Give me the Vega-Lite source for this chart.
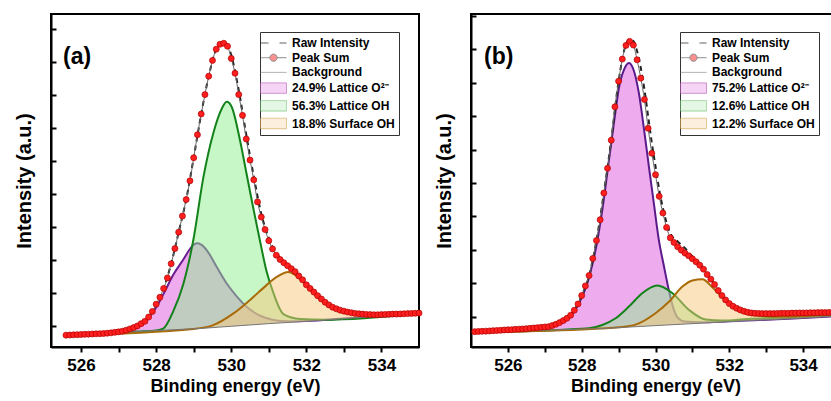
{
  "$schema": "https://vega.github.io/schema/vega-lite/v6.json",
  "background": "white",
  "padding": {"left": 13, "top": 13, "right": 0, "bottom": 0},
  "config": {
    "font": "Liberation Sans",
    "view": {"stroke": "black", "strokeWidth": 2},
    "axis": {"domainColor": "black", "domainWidth": 2, "tickColor": "black", "tickWidth": 2, "labelFont": "Liberation Sans", "labelFontSize": 17, "labelFontWeight": "bold", "labelColor": "black", "titleFont": "Liberation Sans", "titleFontWeight": "bold", "titleColor": "black", "grid": false},
    "axisX": {"titleFontSize": 18, "tickSize": 5, "labelPadding": 5, "titlePadding": 4},
    "axisY": {"titleFontSize": 20, "tickSize": -5, "titlePadding": 16},
    "legend": {"orient": "none", "legendX": 209, "legendY": 18, "symbolSize": 169, "symbolStrokeWidth": 1, "labelFont": "Liberation Sans", "labelFontSize": 12, "labelFontWeight": "bold", "labelColor": "black", "rowPadding": 1.7, "padding": 4, "strokeColor": "#333333", "fillColor": "white", "symbolOffset": 2.5, "labelOffset": 11.5, "labelLimit": 300}
  },
  "datasets": {
    "aBg": [{"x":525.6,"y":-2.9},{"x":527,"y":-2.1},{"x":528,"y":-1.5},{"x":529.2,"y":-0.85},{"x":530,"y":-0.2},{"x":531,"y":0.6},{"x":532,"y":1.3},{"x":533,"y":2.1},{"x":534,"y":2.9},{"x":535,"y":3.7}],
    "aC1": [{"x":525.6,"y":-2.9,"b":-2.9},{"x":527,"y":-2.0,"b":-2.1},{"x":527.3,"y":-1.5,"b":-1.9},{"x":527.5,"y":-0.6,"b":-1.8},{"x":527.84,"y":3.0,"b":-1.6},{"x":528,"y":5.5,"b":-1.5},{"x":528.19,"y":9.5,"b":-1.4},{"x":528.46,"y":15.5,"b":-1.25},{"x":528.72,"y":20.0,"b":-1.1},{"x":528.95,"y":24.0,"b":-1.0},{"x":529.08,"y":25.0,"b":-0.9},{"x":529.2,"y":24.6,"b":-0.85},{"x":529.35,"y":22.9,"b":-0.7},{"x":529.61,"y":17.9,"b":-0.5},{"x":529.88,"y":12.8,"b":-0.3},{"x":530.15,"y":8.8,"b":-0.1},{"x":530.41,"y":5.7,"b":0.1},{"x":530.77,"y":3.0,"b":0.4},{"x":531.1,"y":1.8,"b":0.7},{"x":531.5,"y":1.3,"b":1.0},{"x":532,"y":1.4,"b":1.3},{"x":533,"y":2.15,"b":2.1},{"x":535,"y":3.7,"b":3.7}],
    "aC2": [{"x":525.6,"y":-2.9,"b":-2.9},{"x":527.5,"y":-1.8,"b":-1.8},{"x":528,"y":-1.45,"b":-1.5},{"x":528.19,"y":-0.9,"b":-1.4},{"x":528.46,"y":4.5,"b":-1.25},{"x":528.72,"y":12.5,"b":-1.1},{"x":528.99,"y":26.0,"b":-1.0},{"x":529.26,"y":45.2,"b":-0.8},{"x":529.52,"y":58.4,"b":-0.6},{"x":529.75,"y":66.0,"b":-0.4},{"x":529.88,"y":68.0,"b":-0.3},{"x":530.01,"y":66.5,"b":-0.2},{"x":530.23,"y":56.5,"b":0.0},{"x":530.41,"y":46.0,"b":0.1},{"x":530.59,"y":35.5,"b":0.3},{"x":530.77,"y":25.5,"b":0.4},{"x":530.94,"y":16.5,"b":0.55},{"x":531.12,"y":10.0,"b":0.7},{"x":531.39,"y":3.5,"b":0.9},{"x":531.83,"y":2.0,"b":1.2},{"x":532.5,"y":1.8,"b":1.7},{"x":535,"y":3.7,"b":3.7}],
    "aC3": [{"x":525.6,"y":-2.9,"b":-2.9},{"x":529,"y":-1.0,"b":-1.0},{"x":529.52,"y":0.15,"b":-0.6},{"x":530.06,"y":3.7,"b":-0.15},{"x":530.5,"y":7.8,"b":0.2},{"x":530.94,"y":12.3,"b":0.55},{"x":531.21,"y":14.8,"b":0.75},{"x":531.52,"y":16.3,"b":1.0},{"x":531.92,"y":13.2,"b":1.25},{"x":532.28,"y":8.8,"b":1.5},{"x":532.63,"y":5.9,"b":1.8},{"x":533.07,"y":4.0,"b":2.15},{"x":533.61,"y":3.2,"b":2.6},{"x":534.23,"y":3.3,"b":3.1},{"x":535,"y":3.75,"b":3.7}],
    "aRaw": [{"x":525.6,"y":-2.9},{"x":526,"y":-2.7},{"x":526.4,"y":-2.5},{"x":526.8,"y":-2.2},{"x":527,"y":-1.9},{"x":527.2,"y":-1.4},{"x":527.4,"y":-0.6},{"x":527.6,"y":0.6},{"x":527.8,"y":2.6},{"x":528,"y":6.5},{"x":528.2,"y":11.3},{"x":528.4,"y":18.8},{"x":528.6,"y":28.4},{"x":528.8,"y":38.3},{"x":529,"y":51.0},{"x":529.2,"y":64.3},{"x":529.4,"y":75.8},{"x":529.6,"y":84.0},{"x":529.7,"y":85.6},{"x":529.8,"y":86.0},{"x":529.9,"y":85.3},{"x":530,"y":82.2},{"x":530.2,"y":71.5},{"x":530.4,"y":58.0},{"x":530.6,"y":45.3},{"x":530.8,"y":34.0},{"x":531,"y":26.6},{"x":531.2,"y":22.0},{"x":531.4,"y":19.6},{"x":531.6,"y":17.7},{"x":531.8,"y":15.4},{"x":532,"y":12.6},{"x":532.2,"y":10.3},{"x":532.4,"y":8.2},{"x":532.6,"y":6.3},{"x":532.8,"y":5.1},{"x":533,"y":4.4},{"x":533.4,"y":3.6},{"x":533.8,"y":3.3},{"x":534.2,"y":3.45},{"x":534.6,"y":3.6},{"x":535,"y":3.8}],
    "aSum": [{"x":525.6,"y":-2.9},{"x":525.7,"y":-2.85},{"x":525.8,"y":-2.8},{"x":525.9,"y":-2.75},{"x":526.0,"y":-2.7},{"x":526.1,"y":-2.65},{"x":526.2,"y":-2.6},{"x":526.3,"y":-2.55},{"x":526.4,"y":-2.5},{"x":526.5,"y":-2.45},{"x":526.6,"y":-2.4},{"x":526.7,"y":-2.3},{"x":526.8,"y":-2.2},{"x":526.9,"y":-2.05},{"x":527.0,"y":-1.9},{"x":527.1,"y":-1.7},{"x":527.2,"y":-1.4},{"x":527.3,"y":-1.0},{"x":527.4,"y":-0.6},{"x":527.5,"y":-0.1},{"x":527.6,"y":0.6},{"x":527.7,"y":1.3},{"x":527.8,"y":2.6},{"x":527.9,"y":4.3},{"x":528.0,"y":6.5},{"x":528.1,"y":8.6},{"x":528.2,"y":11.3},{"x":528.3,"y":14.5},{"x":528.4,"y":18.8},{"x":528.5,"y":23.4},{"x":528.6,"y":28.4},{"x":528.7,"y":33.3},{"x":528.8,"y":38.3},{"x":528.9,"y":44.0},{"x":529.0,"y":51.0},{"x":529.1,"y":58.0},{"x":529.2,"y":64.3},{"x":529.3,"y":70.2},{"x":529.4,"y":75.8},{"x":529.5,"y":80.6},{"x":529.6,"y":84.0},{"x":529.7,"y":85.5},{"x":529.8,"y":85.8},{"x":529.9,"y":84.9},{"x":530.0,"y":81.2},{"x":530.1,"y":76.7},{"x":530.2,"y":70.2},{"x":530.3,"y":63.9},{"x":530.4,"y":56.7},{"x":530.5,"y":50.3},{"x":530.6,"y":44.3},{"x":530.7,"y":37.6},{"x":530.8,"y":33.0},{"x":530.9,"y":29.2},{"x":531.0,"y":25.8},{"x":531.1,"y":23.3},{"x":531.2,"y":21.4},{"x":531.3,"y":20.1},{"x":531.4,"y":19.1},{"x":531.5,"y":18.2},{"x":531.6,"y":17.3},{"x":531.7,"y":16.4},{"x":531.8,"y":15.1},{"x":531.9,"y":13.9},{"x":532.0,"y":12.4},{"x":532.1,"y":11.3},{"x":532.2,"y":10.2},{"x":532.3,"y":9.1},{"x":532.4,"y":8.1},{"x":532.5,"y":7.1},{"x":532.6,"y":6.3},{"x":532.7,"y":5.6},{"x":532.8,"y":5.1},{"x":532.9,"y":4.7},{"x":533.0,"y":4.4},{"x":533.1,"y":4.1},{"x":533.2,"y":3.9},{"x":533.3,"y":3.7},{"x":533.4,"y":3.6},{"x":533.5,"y":3.5},{"x":533.6,"y":3.4},{"x":533.7,"y":3.35},{"x":533.8,"y":3.3},{"x":533.9,"y":3.3},{"x":534.0,"y":3.35},{"x":534.1,"y":3.4},{"x":534.2,"y":3.45},{"x":534.3,"y":3.5},{"x":534.4,"y":3.5},{"x":534.5,"y":3.55},{"x":534.6,"y":3.6},{"x":534.7,"y":3.65},{"x":534.8,"y":3.7},{"x":534.9,"y":3.75},{"x":535.0,"y":3.8}],
    "bBg": [{"x":525.1,"y":-4.75},{"x":526,"y":-4.45},{"x":527,"y":-4.1},{"x":528,"y":-3.75},{"x":528.7,"y":-3.5},{"x":529.5,"y":-3.0},{"x":530.5,"y":-2.4},{"x":531.5,"y":-1.8},{"x":532.5,"y":-1.2},{"x":533.5,"y":-0.7},{"x":534.5,"y":-0.1},{"x":535,"y":0.2}],
    "bC1": [{"x":525.1,"y":-4.5,"b":-4.75},{"x":526.5,"y":-3.7,"b":-4.25},{"x":527.1,"y":-3.1,"b":-4.05},{"x":527.5,"y":-1.6,"b":-3.9},{"x":527.84,"y":2.3,"b":-3.8},{"x":528.2,"y":11.8,"b":-3.6},{"x":528.42,"y":22.5,"b":-3.55},{"x":528.56,"y":32.0,"b":-3.5},{"x":528.74,"y":47.0,"b":-3.45},{"x":528.88,"y":58.5,"b":-3.35},{"x":529.01,"y":68.5,"b":-3.3},{"x":529.15,"y":74.0,"b":-3.2},{"x":529.28,"y":75.9,"b":-3.1},{"x":529.42,"y":73.4,"b":-3.0},{"x":529.55,"y":66.9,"b":-2.95},{"x":529.69,"y":56.0,"b":-2.85},{"x":529.82,"y":45.0,"b":-2.8},{"x":529.96,"y":33.5,"b":-2.7},{"x":530.09,"y":23.0,"b":-2.65},{"x":530.23,"y":15.0,"b":-2.55},{"x":530.37,"y":7.5,"b":-2.5},{"x":530.47,"y":3.0,"b":-2.4},{"x":530.6,"y":-0.3,"b":-2.35},{"x":530.8,"y":-1.5,"b":-2.2},{"x":531.2,"y":-1.7,"b":-2.0},{"x":532,"y":-1.4,"b":-1.5},{"x":535,"y":0.2,"b":0.2}],
    "bC2": [{"x":525.1,"y":-4.75,"b":-4.75},{"x":527.5,"y":-3.9,"b":-3.9},{"x":528.2,"y":-3.5,"b":-3.6},{"x":528.56,"y":-2.5,"b":-3.5},{"x":528.92,"y":-0.5,"b":-3.35},{"x":529.28,"y":3.0,"b":-3.1},{"x":529.64,"y":7.0,"b":-2.9},{"x":530.05,"y":9.3,"b":-2.7},{"x":530.46,"y":7.0,"b":-2.4},{"x":530.91,"y":2.0,"b":-2.15},{"x":531.36,"y":-0.9,"b":-1.9},{"x":531.81,"y":-1.2,"b":-1.6},{"x":532.5,"y":-0.7,"b":-1.2},{"x":533.5,"y":-0.3,"b":-0.7},{"x":535,"y":0.5,"b":0.2}],
    "bC3": [{"x":525.1,"y":-4.75,"b":-4.75},{"x":528.5,"y":-3.55,"b":-3.55},{"x":529,"y":-3.2,"b":-3.25},{"x":529.46,"y":-2.4,"b":-3.0},{"x":530,"y":1.0,"b":-2.7},{"x":530.37,"y":4.5,"b":-2.5},{"x":530.73,"y":9.0,"b":-2.3},{"x":531,"y":10.8,"b":-2.1},{"x":531.27,"y":11.2,"b":-1.95},{"x":531.54,"y":8.8,"b":-1.8},{"x":531.81,"y":5.8,"b":-1.6},{"x":532.08,"y":3.0,"b":-1.45},{"x":532.35,"y":1.2,"b":-1.3},{"x":532.72,"y":0.3,"b":-1.05},{"x":533.44,"y":0.0,"b":-0.7},{"x":534,"y":0.2,"b":-0.4},{"x":535,"y":0.7,"b":0.2}],
    "bRaw": [{"x":525.1,"y":-4.5},{"x":525.6,"y":-4.2},{"x":526,"y":-3.95},{"x":526.6,"y":-3.5},{"x":527,"y":-3.1},{"x":527.2,"y":-2.7},{"x":527.4,"y":-1.8},{"x":527.6,"y":-0.5},{"x":527.8,"y":1.9},{"x":528,"y":6.3},{"x":528.2,"y":12.2},{"x":528.4,"y":22.8},{"x":528.6,"y":37.0},{"x":528.8,"y":52.8},{"x":529,"y":70.5},{"x":529.2,"y":81.5},{"x":529.3,"y":83.0},{"x":529.4,"y":82.5},{"x":529.5,"y":79.5},{"x":529.6,"y":74.5},{"x":529.7,"y":68.0},{"x":529.8,"y":60.0},{"x":529.9,"y":52.0},{"x":530,"y":45.0},{"x":530.1,"y":38.0},{"x":530.2,"y":32.5},{"x":530.4,"y":25.0},{"x":530.6,"y":22.5},{"x":530.8,"y":20.5},{"x":531,"y":18.0},{"x":531.2,"y":15.8},{"x":531.4,"y":12.8},{"x":531.6,"y":9.7},{"x":531.8,"y":6.3},{"x":532,"y":3.9},{"x":532.2,"y":2.5},{"x":532.4,"y":1.6},{"x":532.6,"y":1.1},{"x":532.8,"y":0.95},{"x":533.2,"y":0.9},{"x":533.6,"y":1.0},{"x":534,"y":1.1},{"x":534.5,"y":1.2},{"x":535,"y":1.3}],
    "bSum": [{"x":525.1,"y":-4.5},{"x":525.2,"y":-4.45},{"x":525.3,"y":-4.4},{"x":525.4,"y":-4.35},{"x":525.5,"y":-4.3},{"x":525.6,"y":-4.2},{"x":525.7,"y":-4.15},{"x":525.8,"y":-4.1},{"x":525.9,"y":-4.0},{"x":526.0,"y":-3.95},{"x":526.1,"y":-3.9},{"x":526.2,"y":-3.8},{"x":526.3,"y":-3.75},{"x":526.4,"y":-3.7},{"x":526.5,"y":-3.6},{"x":526.6,"y":-3.5},{"x":526.7,"y":-3.4},{"x":526.8,"y":-3.3},{"x":526.9,"y":-3.2},{"x":527.0,"y":-3.1},{"x":527.1,"y":-3.0},{"x":527.2,"y":-2.7},{"x":527.3,"y":-2.3},{"x":527.4,"y":-1.8},{"x":527.5,"y":-1.2},{"x":527.6,"y":-0.5},{"x":527.7,"y":0.4},{"x":527.8,"y":1.9},{"x":527.9,"y":3.8},{"x":528.0,"y":6.3},{"x":528.1,"y":9.2},{"x":528.2,"y":12.3},{"x":528.3,"y":17.4},{"x":528.4,"y":22.8},{"x":528.5,"y":29.0},{"x":528.6,"y":37.0},{"x":528.7,"y":44.4},{"x":528.8,"y":52.8},{"x":528.9,"y":62.8},{"x":529.0,"y":70.5},{"x":529.1,"y":77.1},{"x":529.2,"y":81.2},{"x":529.3,"y":82.4},{"x":529.4,"y":81.3},{"x":529.5,"y":76.9},{"x":529.6,"y":71.4},{"x":529.7,"y":65.0},{"x":529.8,"y":56.4},{"x":529.9,"y":48.9},{"x":530.0,"y":42.5},{"x":530.1,"y":36.0},{"x":530.2,"y":31.0},{"x":530.3,"y":26.7},{"x":530.4,"y":23.6},{"x":530.5,"y":22.2},{"x":530.6,"y":20.9},{"x":530.7,"y":19.9},{"x":530.8,"y":19.0},{"x":530.9,"y":18.2},{"x":531.0,"y":17.3},{"x":531.1,"y":16.4},{"x":531.2,"y":15.4},{"x":531.3,"y":14.2},{"x":531.4,"y":12.6},{"x":531.5,"y":11.2},{"x":531.6,"y":9.6},{"x":531.7,"y":7.8},{"x":531.8,"y":6.3},{"x":531.9,"y":5.0},{"x":532.0,"y":3.9},{"x":532.1,"y":3.1},{"x":532.2,"y":2.5},{"x":532.3,"y":2.0},{"x":532.4,"y":1.6},{"x":532.5,"y":1.3},{"x":532.6,"y":1.1},{"x":532.7,"y":1.0},{"x":532.8,"y":0.95},{"x":532.9,"y":0.9},{"x":533.0,"y":0.9},{"x":533.1,"y":0.9},{"x":533.2,"y":0.9},{"x":533.3,"y":0.95},{"x":533.4,"y":1.0},{"x":533.5,"y":1.0},{"x":533.6,"y":1.0},{"x":533.7,"y":1.05},{"x":533.8,"y":1.05},{"x":533.9,"y":1.1},{"x":534.0,"y":1.1},{"x":534.1,"y":1.1},{"x":534.2,"y":1.15},{"x":534.3,"y":1.15},{"x":534.4,"y":1.2},{"x":534.5,"y":1.2},{"x":534.6,"y":1.2},{"x":534.7,"y":1.25},{"x":534.8,"y":1.25},{"x":534.9,"y":1.3},{"x":535.0,"y":1.3}]
  },
  "hconcat": [
    {
      "width": 368,
      "height": 333,
      "title": {"text": "(a)", "anchor": "start", "frame": "group", "orient": "top", "offset": 0, "dx": 12, "dy": 73, "baseline": "alphabetic", "fontSize": 23, "fontWeight": "bold", "font": "Liberation Sans", "color": "black"},
      "encoding": {
        "x": {"field": "x", "type": "quantitative", "scale": {"domain": [525.2, 535], "nice": false, "zero": false}, "axis": {"title": "Binding energy (eV)", "values": [526, 527, 528, 529, 530, 531, 532, 533, 534], "labelExpr": "datum.value % 2 === 0 ? datum.label : ''", "encode": {"ticks": {"update": {"y2": {"signal": "datum.value % 2 === 0 ? 6 : 3.5"}}}}}},
        "y": {"field": "y", "type": "quantitative", "scale": {"domain": [-6.5, 94.7], "nice": false, "zero": false}, "axis": {"title": "Intensity (a.u.)", "values": [0, 10, 20, 30, 40, 50, 60, 70, 80, 90], "labels": false, "encode": {"ticks": {"update": {"x2": {"signal": "datum.value % 20 === 10 ? 7 : 4"}}}}}}
      },
      "layer": [
        {"data": {"name": "aC1"}, "mark": {"type": "area", "interpolate": "monotone", "fill": "#e066e0", "fillOpacity": 0.55}, "encoding": {"y2": {"field": "b"}}},
        {"data": {"name": "aC1"}, "mark": {"type": "line", "interpolate": "monotone", "stroke": "#6a1b8f", "strokeWidth": 2}, "encoding": {}},
        {"data": {"name": "aC2"}, "mark": {"type": "area", "interpolate": "monotone", "fill": "#90ee90", "fillOpacity": 0.5}, "encoding": {"y2": {"field": "b"}}},
        {"data": {"name": "aC2"}, "mark": {"type": "line", "interpolate": "monotone", "stroke": "#13821a", "strokeWidth": 2}, "encoding": {}},
        {"data": {"name": "aC3"}, "mark": {"type": "area", "interpolate": "monotone", "fill": "#f7c77e", "fillOpacity": 0.5}, "encoding": {"y2": {"field": "b"}}},
        {"data": {"name": "aC3"}, "mark": {"type": "line", "interpolate": "monotone", "stroke": "#a86b08", "strokeWidth": 2}, "encoding": {}},
        {"data": {"name": "aBg"}, "mark": {"type": "line", "stroke": "#777777", "strokeWidth": 1}, "encoding": {}},
        {"data": {"name": "aRaw"}, "mark": {"type": "line", "interpolate": "monotone", "stroke": "#222222", "strokeWidth": 2, "strokeDash": [5, 4]}, "encoding": {}},
        {"data": {"name": "aSum"}, "mark": {"type": "line", "interpolate": "monotone", "stroke": "#666666", "strokeWidth": 1}, "encoding": {}},
        {"data": {"name": "aSum"}, "mark": {"type": "point", "filled": true, "fill": "#ff1f1f", "stroke": "#b00000", "strokeWidth": 0.7, "size": 36, "opacity": 1}, "encoding": {}},
        {"data": {"values": []}, "mark": {"type": "point", "filled": true}, "encoding": {
          "stroke": {"field": "s", "type": "nominal", "title": null, "scale": {"domain": ["Raw Intensity", "Peak Sum", "Background", "24.9% Lattice O²⁻", "56.3% Lattice OH", "18.8% Surface OH"], "range": ["#222222", "#555555", "#777777", "#b55ab5", "#6cc06c", "#d4a24e"]}},
          "fill": {"field": "s", "type": "nominal", "title": null, "scale": {"domain": ["Raw Intensity", "Peak Sum", "Background", "24.9% Lattice O²⁻", "56.3% Lattice OH", "18.8% Surface OH"], "range": ["transparent", "#ff2020", "transparent", "#eea8ee", "#c9f0c9", "#fbe0bb"]}},
          "shape": {"field": "s", "type": "nominal", "title": null, "scale": {"domain": ["Raw Intensity", "Peak Sum", "Background", "24.9% Lattice O²⁻", "56.3% Lattice OH", "18.8% Surface OH"], "range": ["M-2,0H2", "M-2,0H-0.55M0.55,0H2M0.55,0A0.55,0.55,0,1,1,-0.55,0A0.55,0.55,0,1,1,0.55,0Z", "M-2,0H2", "M-2,-0.8H2V0.8H-2Z", "M-2,-0.8H2V0.8H-2Z", "M-2,-0.8H2V0.8H-2Z"]}},
          "strokeDash": {"field": "s", "type": "nominal", "title": null, "scale": {"domain": ["Raw Intensity", "Peak Sum", "Background", "24.9% Lattice O²⁻", "56.3% Lattice OH", "18.8% Surface OH"], "range": [[8, 11], [1, 0], [1, 0], [1, 0], [1, 0], [1, 0]]}}
        }}
      ]
    },
    {
      "width": 369,
      "height": 333,
      "title": {"text": "(b)", "anchor": "start", "frame": "group", "orient": "top", "offset": 0, "dx": 13, "dy": 73, "baseline": "alphabetic", "fontSize": 23, "fontWeight": "bold", "font": "Liberation Sans", "color": "black"},
      "encoding": {
        "x": {"field": "x", "type": "quantitative", "scale": {"domain": [525, 535], "nice": false, "zero": false}, "axis": {"title": "Binding energy (eV)", "values": [526, 527, 528, 529, 530, 531, 532, 533, 534], "labelExpr": "datum.value % 2 === 0 ? datum.label : ''", "encode": {"ticks": {"update": {"y2": {"signal": "datum.value % 2 === 0 ? 6 : 3.5"}}}}}},
        "y": {"field": "y", "type": "quantitative", "scale": {"domain": [-9.1, 90.6], "nice": false, "zero": false}, "axis": {"title": "Intensity (a.u.)", "values": [0, 10, 20, 30, 40, 50, 60, 70, 80, 90], "labels": false, "encode": {"ticks": {"update": {"x2": {"signal": "datum.value % 20 === 10 ? 7 : 4"}}}}}}
      },
      "layer": [
        {"data": {"name": "bC1"}, "mark": {"type": "area", "interpolate": "monotone", "fill": "#e066e0", "fillOpacity": 0.55}, "encoding": {"y2": {"field": "b"}}},
        {"data": {"name": "bC1"}, "mark": {"type": "line", "interpolate": "monotone", "stroke": "#5b1a8a", "strokeWidth": 2}, "encoding": {}},
        {"data": {"name": "bC2"}, "mark": {"type": "area", "interpolate": "monotone", "fill": "#90ee90", "fillOpacity": 0.5}, "encoding": {"y2": {"field": "b"}}},
        {"data": {"name": "bC2"}, "mark": {"type": "line", "interpolate": "monotone", "stroke": "#13821a", "strokeWidth": 2}, "encoding": {}},
        {"data": {"name": "bC3"}, "mark": {"type": "area", "interpolate": "monotone", "fill": "#f7c77e", "fillOpacity": 0.5}, "encoding": {"y2": {"field": "b"}}},
        {"data": {"name": "bC3"}, "mark": {"type": "line", "interpolate": "monotone", "stroke": "#a86b08", "strokeWidth": 2}, "encoding": {}},
        {"data": {"name": "bBg"}, "mark": {"type": "line", "stroke": "#777777", "strokeWidth": 1}, "encoding": {}},
        {"data": {"name": "bRaw"}, "mark": {"type": "line", "interpolate": "monotone", "stroke": "#222222", "strokeWidth": 2, "strokeDash": [5, 4]}, "encoding": {}},
        {"data": {"name": "bSum"}, "mark": {"type": "line", "interpolate": "monotone", "stroke": "#666666", "strokeWidth": 1}, "encoding": {}},
        {"data": {"name": "bSum"}, "mark": {"type": "point", "filled": true, "fill": "#ff1f1f", "stroke": "#b00000", "strokeWidth": 0.7, "size": 36, "opacity": 1}, "encoding": {}},
        {"data": {"values": []}, "mark": {"type": "point", "filled": true}, "encoding": {
          "stroke": {"field": "s", "type": "nominal", "title": null, "scale": {"domain": ["Raw Intensity", "Peak Sum", "Background", "75.2% Lattice O²⁻", "12.6% Lattice OH", "12.2% Surface OH"], "range": ["#222222", "#555555", "#777777", "#b55ab5", "#6cc06c", "#d4a24e"]}},
          "fill": {"field": "s", "type": "nominal", "title": null, "scale": {"domain": ["Raw Intensity", "Peak Sum", "Background", "75.2% Lattice O²⁻", "12.6% Lattice OH", "12.2% Surface OH"], "range": ["transparent", "#ff2020", "transparent", "#eea8ee", "#c9f0c9", "#fbe0bb"]}},
          "shape": {"field": "s", "type": "nominal", "title": null, "scale": {"domain": ["Raw Intensity", "Peak Sum", "Background", "75.2% Lattice O²⁻", "12.6% Lattice OH", "12.2% Surface OH"], "range": ["M-2,0H2", "M-2,0H-0.55M0.55,0H2M0.55,0A0.55,0.55,0,1,1,-0.55,0A0.55,0.55,0,1,1,0.55,0Z", "M-2,0H2", "M-2,-0.8H2V0.8H-2Z", "M-2,-0.8H2V0.8H-2Z", "M-2,-0.8H2V0.8H-2Z"]}},
          "strokeDash": {"field": "s", "type": "nominal", "title": null, "scale": {"domain": ["Raw Intensity", "Peak Sum", "Background", "75.2% Lattice O²⁻", "12.6% Lattice OH", "12.2% Surface OH"], "range": [[8, 11], [1, 0], [1, 0], [1, 0], [1, 0], [1, 0]]}}
        }}
      ]
    }
  ],
  "spacing": 8,
  "resolve": {"scale": {"x": "independent", "y": "independent", "stroke": "independent", "fill": "independent", "shape": "independent", "strokeDash": "independent"}, "legend": {"stroke": "independent", "fill": "independent", "shape": "independent", "strokeDash": "independent"}}
}
